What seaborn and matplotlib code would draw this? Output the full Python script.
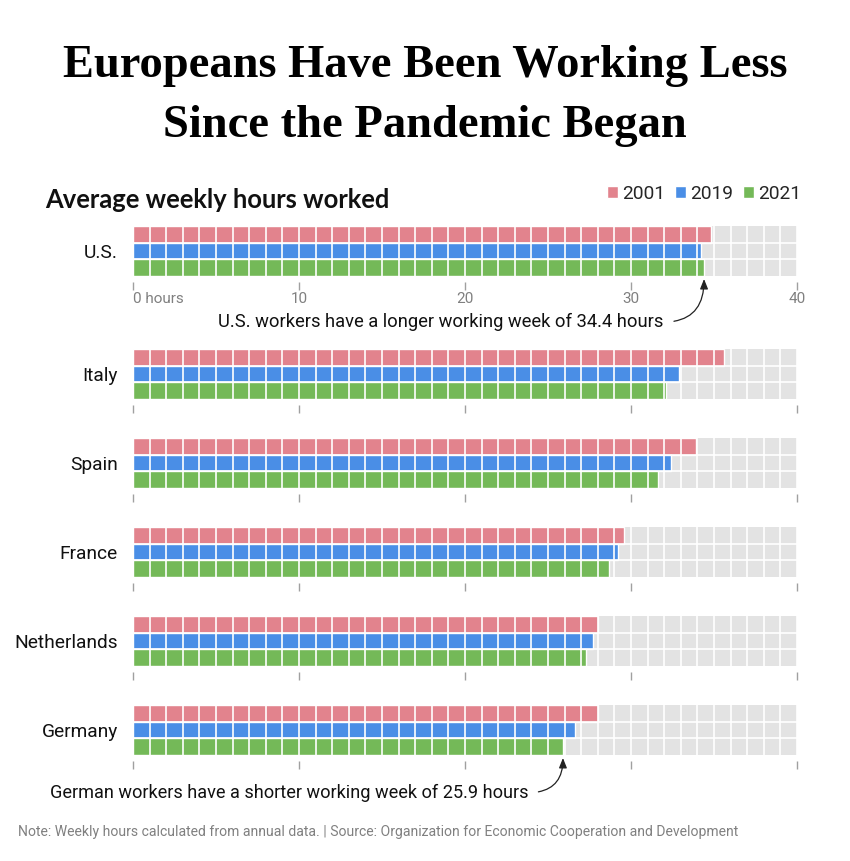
import numpy as np
import pandas as pd
import matplotlib
matplotlib.use("Agg")
import matplotlib.pyplot as plt
from matplotlib import font_manager
import seaborn as sns

countries = ["U.S.", "Italy", "Spain", "France", "Netherlands", "Germany"]
years = ["2001", "2019", "2021"]
hours_2001 = [34.8, 35.6, 33.9, 29.6, 28.0, 28.0]
hours_2019 = [34.2, 32.9, 32.4, 29.2, 27.7, 26.6]
hours_2021 = [34.4, 32.1, 31.6, 28.7, 27.3, 25.9]
tick_values = [0, 10, 20, 30, 40]
tick_labels = ["0 hours", "10", "20", "30", "40"]

colors = {"2001": "#e2838d", "2019": "#4a8ee6", "2021": "#74b958"}

df = pd.DataFrame({
    "country": np.repeat(countries, 3),
    "year": years * len(countries),
    "hours": np.ravel(np.column_stack([hours_2001, hours_2019, hours_2021])),
})

sns.set_style("white")
installed = {f.name for f in font_manager.fontManager.ttflist}


def pick(*names):
    for n in names:
        if n in installed:
            return n
    return "DejaVu Sans"


sans = pick("Liberation Sans Narrow", "Roboto", "Open Sans")
bold_sans = pick("Lato", "Open Sans", "Roboto")
serif = pick("Liberation Serif", "DejaVu Serif")
plt.rcParams["font.family"] = [sans, "DejaVu Sans"]

W, H = 850, 861
fig = plt.figure(figsize=(W / 100, H / 100), dpi=100)

fig.text(0.5, 1 - 77 / H, "Europeans Have Been Working Less", ha="center",
         va="baseline", fontsize=33.5, fontweight="bold", family=serif, color="black")
fig.text(0.5, 1 - 137 / H, "Since the Pandemic Began", ha="center",
         va="baseline", fontsize=33.5, fontweight="bold", family=serif, color="black")
fig.text(45 / W, 1 - 200 / H, "Average weekly hours worked", ha="left",
         va="center", fontsize=18.4, fontweight="bold", family=bold_sans, color="#111")
fig.text(18 / W, 1 - 832 / H,
         "Note: Weekly hours calculated from annual data. | Source: Organization for Economic Cooperation and Development",
         ha="left", va="center", fontsize=10.1, color="#808080")

tops = [226, 349, 438, 527, 616, 705]
axes = []
for i, c in enumerate(countries):
    ax = fig.add_axes([133 / W, 1 - (tops[i] + 50) / H, 664 / W, 50 / H])
    sub = df[df["country"] == c]
    sns.barplot(data=sub, x="hours", y="country", hue="year", hue_order=years,
                palette=colors, saturation=1, orient="h", width=1.0,
                edgecolor="white", linewidth=1.0, ax=ax, legend=(i == 0))
    ax.set_facecolor("#e3e3e3")
    ax.set_xlim(0, 40)
    ax.set_ylim(0.5, -0.5)
    ax.set_xticks(tick_values)
    ax.set_xticks(range(41), minor=True)
    ax.set_yticks([-1 / 6, 1 / 6], minor=True)
    ax.grid(False)
    ax.grid(which="both", axis="x", color="white", lw=1.2)
    ax.grid(which="minor", axis="y", color="white", lw=1.2)
    ax.set_axisbelow(False)
    for s in ax.spines.values():
        s.set_visible(False)
    ax.spines["bottom"].set_position(("outward", 4))
    ax.tick_params(axis="x", which="major", direction="out", length=6,
                   width=1, color="#a0a0a0", labelsize=11, labelcolor="#808080",
                   pad=1.5, labelbottom=(i == 0), bottom=True)
    ax.tick_params(axis="both", which="minor", length=0)
    ax.tick_params(axis="y", which="major", length=0, pad=11, labelsize=13.8,
                   labelcolor="#111")
    ax.set_xlabel("")
    ax.set_ylabel("")
    if i == 0:
        ax.set_xticklabels(tick_labels)
        ax.get_xticklabels()[0].set_horizontalalignment("left")
        sns.move_legend(ax, "center right", bbox_to_anchor=(1.02, 1.64),
                        ncol=3, frameon=False, title=None, fontsize=13.8,
                        handlelength=0.55, handleheight=0.55, handletextpad=0.2,
                        columnspacing=0.55, borderpad=0)
    axes.append(ax)

arrow = dict(arrowstyle="-|>,head_length=0.45,head_width=0.18", color="#222",
             lw=0.9, connectionstyle="angle3,angleA=0,angleB=90",
             relpos=(1, 0.5), shrinkA=5, shrinkB=0)
axes[0].annotate("U.S. workers have a longer working week of 34.4 hours",
                 xy=(hours_2021[0], -0.06), xycoords=("data", "axes fraction"),
                 xytext=(-29, -31), textcoords="offset points", ha="right",
                 va="center", fontsize=13.2, color="#111", arrowprops=arrow)
axes[5].annotate("German workers have a shorter working week of 25.9 hours",
                 xy=(hours_2021[5], -0.06), xycoords=("data", "axes fraction"),
                 xytext=(-25, -25), textcoords="offset points", ha="right",
                 va="center", fontsize=13.1, color="#111", arrowprops=arrow)

fig.savefig("out.png", dpi=100)
